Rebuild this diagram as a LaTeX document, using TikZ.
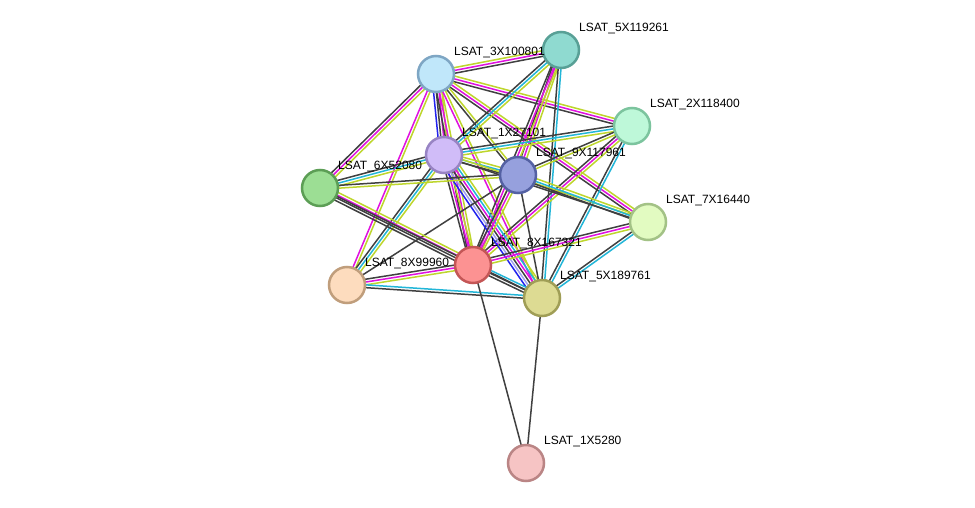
\documentclass[tikz,border=0pt]{standalone}
\usepackage{fontspec}
\setmainfont{Liberation Sans}
\usetikzlibrary{calc,backgrounds}
\definecolor{cdark}{HTML}{404040}
\definecolor{cmag}{HTML}{E010E0}
\definecolor{cyel}{HTML}{BED62C}
\definecolor{ccyan}{HTML}{22B6D8}
\definecolor{cblue}{HTML}{2222EE}
\definecolor{clav}{HTML}{A0A0F0}
% protein fills and rims
\definecolor{f5X119261}{RGB}{143,218,208}\definecolor{d5X119261}{RGB}{88,160,150}
\definecolor{f3X100801}{RGB}{192,231,250}\definecolor{d3X100801}{RGB}{126,166,196}
\definecolor{f2X118400}{RGB}{190,248,217}\definecolor{d2X118400}{RGB}{124,196,158}
\definecolor{f1X27101}{RGB}{208,188,248}\definecolor{d1X27101}{RGB}{152,132,196}
\definecolor{f9X117961}{RGB}{150,160,221}\definecolor{d9X117961}{RGB}{84,97,163}
\definecolor{f6X52080}{RGB}{156,222,148}\definecolor{d6X52080}{RGB}{92,158,85}
\definecolor{f7X16440}{RGB}{226,251,193}\definecolor{d7X16440}{RGB}{163,194,134}
\definecolor{f8X167321}{RGB}{252,146,146}\definecolor{d8X167321}{RGB}{196,86,86}
\definecolor{f8X99960}{RGB}{253,220,190}\definecolor{d8X99960}{RGB}{192,158,124}
\definecolor{f5X189761}{RGB}{221,219,147}\definecolor{d5X189761}{RGB}{160,158,86}
\definecolor{f1X5280}{RGB}{246,196,196}\definecolor{d1X5280}{RGB}{186,133,133}
\tikzset{prot/.style={circle, draw=d#1, fill=f#1, line width=2.5pt, minimum size=36pt, inner sep=0pt}}
\tikzset{lbl/.style={anchor=west, inner sep=0pt, font=\fontsize{12}{13}\selectfont}}
% parallel coloured lines between two proteins
\newcommand{\link}[3]{%
  \foreach \col [count=\i] in {#3} {\global\let\nlinks\i}
  \foreach \col [count=\i] in {#3} {
    \pgfmathsetmacro{\off}{(\i-(\nlinks+1)/2)*2.8}
    \draw[\col, line width=1.5pt] ($(#1.center)!\off pt!90:(#2.center)$) -- ($(#2.center)!\off pt!-90:(#1.center)$);
  }}

\begin{document}
\begin{tikzpicture}[x=1pt,y=-1pt]
    \node[prot=5X119261] (p5X119261) at (561,50) {};
    \node[prot=3X100801] (p3X100801) at (436,74) {};
    \node[prot=2X118400] (p2X118400) at (632,126) {};
    \node[prot=1X27101] (p1X27101) at (444,155) {};
    \node[prot=9X117961] (p9X117961) at (518,175) {};
    \node[prot=6X52080] (p6X52080) at (320,188) {};
    \node[prot=7X16440] (p7X16440) at (648,222) {};
    \node[prot=8X167321] (p8X167321) at (473,265) {};
    \node[prot=8X99960] (p8X99960) at (347,285) {};
    \node[prot=5X189761] (p5X189761) at (542,298) {};
    \node[prot=1X5280] (p1X5280) at (526,463) {};

    \foreach \p in {5X119261,3X100801,2X118400,1X27101,9X117961,6X52080,7X16440,8X167321,8X99960,5X189761,1X5280}
      \node[lbl] (l\p) at ($(p\p)+(18,-21)$) {LSAT\_\p};

    \begin{pgfonlayer}{background}
    \path[fill=white, use as bounding box] (0,0) rectangle (975,508);
    \link{p3X100801}{p5X119261}{cdark,cmag,cyel}
    \link{p3X100801}{p2X118400}{cdark,cmag,cyel}
    \link{p3X100801}{p7X16440}{cdark,cmag,cyel}
    \link{p3X100801}{p9X117961}{cdark,cyel}
    \link{p3X100801}{p1X27101}{cblue,cdark,cmag,cyel}
    \link{p3X100801}{p8X167321}{cdark,cmag,cyel}
    \link{p3X100801}{p6X52080}{cdark,cmag,cyel}
    \link{p3X100801}{p8X99960}{cmag,cyel}
    \link{p3X100801}{p5X189761}{cmag,cyel}
    \link{p5X119261}{p1X27101}{cdark,ccyan,cyel}
    \link{p5X119261}{p9X117961}{cdark,cmag,cyel}
    \link{p5X119261}{p8X167321}{cdark,cmag,cyel}
    \link{p5X119261}{p5X189761}{cdark,ccyan}
    \link{p2X118400}{p1X27101}{cdark,ccyan,cyel}
    \link{p2X118400}{p9X117961}{cdark,cyel}
    \link{p2X118400}{p8X167321}{cdark,cmag,cyel}
    \link{p2X118400}{p5X189761}{cdark,ccyan}
    \link{p1X27101}{p9X117961}{cdark,ccyan,cyel}
    \link{p1X27101}{p6X52080}{cdark,ccyan,cyel}
    \link{p1X27101}{p7X16440}{cdark,cyel}
    \link{p1X27101}{p8X167321}{cdark,cmag,cyel}
    \link{p1X27101}{p8X99960}{cdark,ccyan,cyel}
    \link{p1X27101}{p5X189761}{cblue,clav,cdark,cmag,ccyan,cyel}
    \link{p9X117961}{p6X52080}{cdark,cyel}
    \link{p9X117961}{p7X16440}{cdark,ccyan,cyel}
    \link{p9X117961}{p8X167321}{cdark,cmag,cyel}
    \link{p9X117961}{p8X99960}{cdark}
    \link{p9X117961}{p5X189761}{cdark}
    \link{p6X52080}{p8X167321}{cdark,cdark,cmag,cyel}
    \link{p6X52080}{p5X189761}{cdark}
    \link{p7X16440}{p8X167321}{cdark,cmag,cyel}
    \link{p7X16440}{p5X189761}{cdark,ccyan}
    \link{p8X167321}{p8X99960}{cdark,cmag,cyel}
    \link{p8X167321}{p5X189761}{cdark,cdark,ccyan}
    \link{p8X99960}{p5X189761}{cdark,ccyan}
    \link{p8X167321}{p1X5280}{cdark}
    \link{p5X189761}{p1X5280}{cdark}
    \end{pgfonlayer}
\end{tikzpicture}
\end{document}
